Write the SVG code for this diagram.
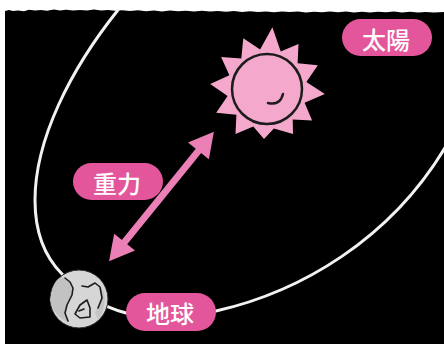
<svg xmlns="http://www.w3.org/2000/svg" width="444" height="344" viewBox="0 0 444 344">
  <defs>
    <style>
      .pill { fill: #e4569b; }
      .label { fill: #ffffff; font-family: "Noto Sans CJK JP", "Noto Sans", sans-serif; font-size: 24px; font-weight: 500; text-anchor: middle; dominant-baseline: central; }
      .orbit { fill: none; stroke: #f2f2f2; stroke-width: 3; stroke-linecap: round; stroke-linejoin: round; }
      .pull { stroke: #ea80b6; stroke-width: 7; fill: none; }
      .ink { fill: none; stroke: #1c1c1c; stroke-width: 1.6; stroke-linecap: round; stroke-linejoin: round; }
    </style>
    <marker id="head" markerUnits="userSpaceOnUse" markerWidth="30" markerHeight="30" refX="0" refY="0" viewBox="-2 -14 28 28" orient="auto-start-reverse" overflow="visible">
      <path d="M-1,-12.5 L22,0 L-1,12.5 Z" fill="#ea80b6"/>
    </marker>
  </defs>

  <!-- night sky panel with a torn top edge -->
  <rect x="0" y="0" width="444" height="344" fill="#ffffff"/>
  <path id="sky" fill="#000000" d="M5,11 L9,10 L13,11 L18,10.5 L24,11.2 L29,9.8 L35,10.6 L41,10 L47,10.8 L54,9.6 L60,10.4 L66,9.8 L73,10.6 L80,10 L87,10.5 L94,9.5 L101,10.4 L108,10 L115,10.8 L122,10.2 L130,11 L138,10.3 L146,11.2 L154,10.5 L162,11.4 L170,10.6 L178,11.2 L186,10.7 L194,11.5 L202,10.8 L210,11.6 L218,11 L226,11.8 L234,11.1 L242,12 L250,11.3 L258,12.1 L266,11.5 L274,12.2 L282,11.4 L290,12 L298,11.5 L306,12.4 L314,11.7 L322,12.3 L330,11.6 L338,12.2 L346,11.5 L354,12.4 L362,11.8 L370,12.5 L378,11.7 L386,12.3 L394,11.6 L402,12.4 L410,11.8 L418,12.6 L426,11.9 L434,12.4 L444,12 L444,344 L5,344 Z"/>

  <!-- orbit path and gravity arrow -->
  <g id="connectors">
    <path class="orbit" d="M118,10 C70,70 35,140 35,200 C35,235 46,258 62,274 C78,292 100,306 126,313 L216,311 C300,292 390,240 446,146"/>
    <line class="pull" x1="123.9" y1="242.9" x2="199.1" y2="150.1" marker-start="url(#head)" marker-end="url(#head)"/>
  </g>

  <!-- sun -->
  <g id="sun">
    <polygon fill="#f4a9cc" points="272.4,27.2 280.7,51.4 298.5,43.9 297.6,63.3 317.8,65.3 306.4,82.1 324.8,94.1 304.6,102.7 312.1,120.5 292.7,119.6 293,134 273.9,128.4 264,139 253.3,126.6 235.5,134.1 236.4,114.7 216.2,112.7 227.6,95.9 210.2,84.0 229.4,75.3 221.1,56.9 241.3,58.4 243.3,38.2 260.1,49.6"/>
    <circle cx="267" cy="89" r="35" fill="#f4a9cc" stroke="#1c1c1c" stroke-width="2.5"/>
    <path d="M268,103 Q280,106 283,94" fill="none" stroke="#1c1c1c" stroke-width="2.5" stroke-linecap="round"/>
  </g>

  <!-- earth -->
  <g id="earth">
    <circle cx="79" cy="299" r="29" fill="#d6d6d6" stroke="#2a2a2a" stroke-width="1"/>
    <path d="M52,290 C55,280 60,276 65,278 L70,283 L73,289 L71,296 L67,305 L65,313 L68,322 C58,318 52,310 50,300 Z" fill="#c2c2c2"/>
    <path d="M100,287 L104,292 C106,300 104,312 98,320 L95,312 L98,308 L102,298 Z" fill="#c4c4c4"/>
    <path class="ink" d="M65,278 L70,282 L73,288 L72,295 L67,305 L65,313 L68,321"/>
    <path class="ink" d="M82,286 L88,287 L95,283 L100,287 L102,298 L98,308"/>
    <path class="ink" d="M75,314 L80,305 L87,300 L90,308 L90,317 L80,318 Z"/>
    <path class="ink" d="M79,311 L84,309"/>
  </g>

  <!-- labels -->
  <g id="label-sun">
    <rect class="pill" x="342" y="19" width="90" height="37" rx="18.5"/>
    <text class="label" x="386" y="38">太陽</text>
  </g>
  <g id="label-gravity">
    <rect class="pill" x="73" y="163" width="90" height="37" rx="18.5"/>
    <text class="label" x="117" y="182">重力</text>
  </g>
  <g id="label-earth">
    <rect class="pill" x="126" y="293" width="90" height="38" rx="19"/>
    <text class="label" x="170" y="312.5">地球</text>
  </g>
</svg>
